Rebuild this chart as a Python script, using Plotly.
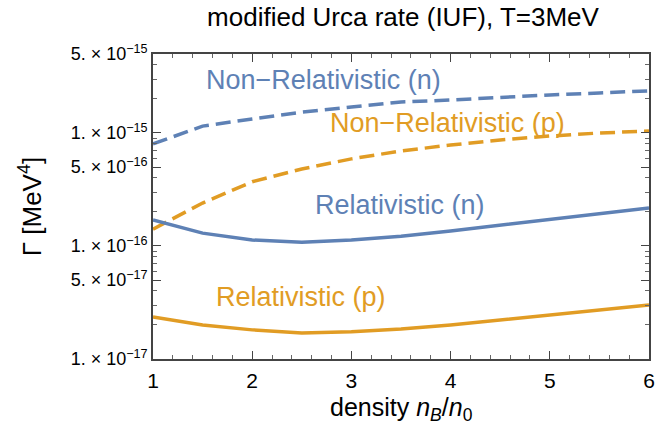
import plotly.graph_objects as go
import math

density = [1.0, 1.5, 2.0, 2.5, 3.0, 3.5, 4.0, 4.5, 5.0, 5.5, 6.0]

nonrel_n = [8.0e-16, 1.15e-15, 1.33e-15, 1.53e-15, 1.70e-15, 1.88e-15, 1.96e-15, 2.08e-15, 2.17e-15, 2.26e-15, 2.36e-15]
nonrel_p = [1.41e-16, 2.4e-16, 3.7e-16, 4.8e-16, 5.9e-16, 6.93e-16, 7.83e-16, 8.67e-16, 9.4e-16, 1.0e-15, 1.04e-15]
rel_n = [1.70e-16, 1.30e-16, 1.13e-16, 1.08e-16, 1.13e-16, 1.22e-16, 1.36e-16, 1.53e-16, 1.73e-16, 1.96e-16, 2.17e-16]
rel_p = [2.36e-17, 2.0e-17, 1.81e-17, 1.70e-17, 1.74e-17, 1.84e-17, 2.0e-17, 2.21e-17, 2.45e-17, 2.72e-17, 3.0e-17]

ytick_vals = [1e-17, 5e-17, 1e-16, 5e-16, 1e-15, 5e-15]
ytick_text = ["1. × 10<sup>−17</sup>", "5. × 10<sup>−17</sup>", "1. × 10<sup>−16</sup>",
              "5. × 10<sup>−16</sup>", "1. × 10<sup>−15</sup>", "5. × 10<sup>−15</sup>"]
xtick_vals = [1, 2, 3, 4, 5, 6]

labels = ["Non−Relativistic (n)", "Non−Relativistic (p)", "Relativistic (n)", "Relativistic (p)"]
label_x = [2.72, 3.97, 3.49, 2.49]
label_y = [2.95e-15, 1.22e-15, 2.30e-16, 3.55e-17]

x_title = "density <i>n</i><sub><i>B</i></sub>/<i>n</i><sub>0</sub>"

BLUE = "#5E81B5"
ORANGE = "#E19C24"
FONT = "Liberation Sans, Arial, sans-serif"

fig = go.Figure()
fig.add_trace(go.Scatter(x=density, y=nonrel_n, mode="lines",
                         line=dict(color=BLUE, width=3.5, dash="15px,7px")))
fig.add_trace(go.Scatter(x=density, y=nonrel_p, mode="lines",
                         line=dict(color=ORANGE, width=3.5, dash="15px,7px")))
fig.add_trace(go.Scatter(x=density, y=rel_n, mode="lines",
                         line=dict(color=BLUE, width=3.5)))
fig.add_trace(go.Scatter(x=density, y=rel_p, mode="lines",
                         line=dict(color=ORANGE, width=3.5)))

colors = [BLUE, ORANGE, BLUE, ORANGE]
for t, xx, yy, c in zip(labels, label_x, label_y, colors):
    fig.add_annotation(x=xx, y=math.log10(yy), text=t, showarrow=False,
                       font=dict(family=FONT, size=27, color=c))

fig.add_annotation(x=0.5, xref="paper", y=-0.165, yref="paper", yanchor="middle",
                   text=x_title, showarrow=False, font=dict(family=FONT, size=25, color="black"))

minor_y = []
for e in (-17, -16, -15):
    for m in range(2, 10):
        v = m * 10 ** e
        if v <= 5e-15 and m != 5:
            minor_y.append(v)

fig.update_layout(
    width=667, height=437,
    margin=dict(l=153, r=14, t=54, b=78),
    paper_bgcolor="white", plot_bgcolor="white",
    showlegend=False,
    font=dict(family=FONT, color="black"),
    title=dict(text="modified Urca rate (IUF), T=3MeV", x=0.6042, xanchor="center",
               y=0.961, yanchor="middle", font=dict(size=26, family=FONT)),
    xaxis=dict(range=[1, 6], tickmode="array", tickvals=xtick_vals,
               ticks="inside", ticklen=8, tickcolor="#444", tickwidth=1,
               showline=True, linecolor="#444", linewidth=1.5, mirror="ticks",
               showgrid=False, zeroline=False, ticklabelstandoff=2,
               tickfont=dict(size=21, family=FONT),
               minor=dict(dtick=0.2, ticks="inside", ticklen=4, tickcolor="#666", showgrid=False)),
    yaxis=dict(type="log", range=[-17, math.log10(5e-15)], tickmode="array",
               tickvals=ytick_vals, ticktext=ytick_text,
               ticks="inside", ticklen=8, tickcolor="#444", tickwidth=1,
               showline=True, linecolor="#444", linewidth=1.5, mirror="ticks",
               showgrid=False, zeroline=False,
               tickfont=dict(size=18, family=FONT),
               minor=dict(tickmode="array", tickvals=minor_y, ticks="inside", ticklen=4,
                          tickcolor="#666", showgrid=False),
               title=dict(text="Γ [MeV<sup>4</sup>]", font=dict(size=26, family=FONT), standoff=22)),
)

fig.write_html("out.html")
